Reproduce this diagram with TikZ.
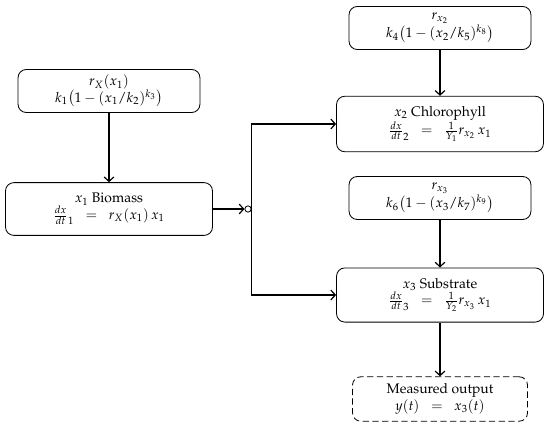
\documentclass[tikz,border=0pt]{standalone}
\usepackage[T1]{fontenc}
\usepackage{mathpazo}
\usetikzlibrary{arrows.meta}

\tikzset{
  ratebox/.style={draw,rounded corners=6pt,line width=0.6pt,align=center,
    minimum width=131pt,minimum height=31pt,inner sep=2pt},
  statebox/.style={ratebox,minimum width=149pt,minimum height=38pt},
  outbox/.style={ratebox,dash pattern=on 4.5pt off 2.5pt,minimum width=126pt,minimum height=32pt},
  flow/.style={->,line width=0.85pt},
  >={Straight Barb[length=3.2pt,width=7pt]}
}

\begin{document}
\begin{tikzpicture}[x=0.72pt,y=-0.72pt]
  \useasboundingbox (0,0) rectangle (550,431);
  % growth rates
  \node[ratebox] (rX) at (109,91) {$r_X(x_1)$\\ $k_1\big(1-(x_1/k_2)^{k_3}\big)$};
  \node[ratebox] (rx2) at (440,28) {$r_{x_2}$\\ $k_4\big(1-(x_2/k_5)^{k_8}\big)$};
  \node[ratebox] (rx3) at (440,198) {$r_{x_3}$\\ $k_6\big(1-(x_3/k_7)^{k_9}\big)$};
  % states
  \node[statebox] (bio) at (109,209) {$x_1$ Biomass\\ $\frac{dx}{dt}_1 \;\;=\;\; r_X(x_1)\,x_1$};
  \node[statebox,minimum height=40pt] (chl) at (440,124) {$x_2$ Chlorophyll\\ $\frac{dx}{dt}_2 \;\;=\;\; \frac{1}{Y_1}r_{x_2}\,x_1$};
  \node[statebox,minimum height=39pt] (sub) at (440,295) {$x_3$ Substrate\\ $\frac{dx}{dt}_3 \;\;=\;\; \frac{1}{Y_2}r_{x_3}\,x_1$};
  \node[outbox] (out) at (440,399) {Measured output\\ $y(t) \;\;=\;\; x_3(t)$};
  % split point
  \node[circle,draw,line width=0.6pt,inner sep=0pt,minimum size=4.5pt] (split) at (248,209) {};
  % connectors
  \draw[flow] (rX) -- (bio);
  \draw[flow] (rx2) -- (chl);
  \draw[flow] (rx3) -- (sub);
  \draw[flow] (sub) -- (out);
  \draw[flow] (bio) -- (split);
  \draw[flow] (split.east) |- (chl.west);
  \draw[flow] (split.east) |- (sub.west);
\end{tikzpicture}
\end{document}
